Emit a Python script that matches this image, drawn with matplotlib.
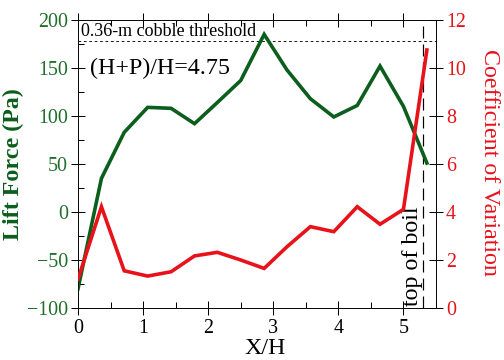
import matplotlib
matplotlib.use("Agg")
import matplotlib.pyplot as plt
from matplotlib.ticker import MultipleLocator

# ---- data ----
x_h = [0.0, 0.36, 0.71, 1.07, 1.43, 1.79, 2.14, 2.50, 2.86, 3.21, 3.57, 3.93, 4.29, 4.64, 5.00, 5.36]
lift_pa = [-80, 35, 83, 109, 108, 92, 114, 137, 185, 148, 118, 99, 111, 152, 110, 51]
cov = [1.2, 4.22, 1.55, 1.33, 1.51, 2.17, 2.32, 2.0, 1.65, 2.55, 3.39, 3.18, 4.22, 3.49, 4.11, 10.75]
threshold = 178
boil_x = 5.30

green = '#0b5e1c'
green_txt = '#1f6e2a'
red = '#e8121b'

plt.rcParams['font.family'] = ['Liberation Serif', 'DejaVu Serif']

fig = plt.figure(figsize=(7, 5), dpi=72)
ax = fig.add_axes([78/504, 52/360, (436-78)/504, 288/360])
ax2 = ax.twinx()

ax.plot(x_h, lift_pa, color=green, lw=3.6, solid_joinstyle='miter', zorder=3)
ax2.plot(x_h, cov, color=red, lw=3.6, solid_joinstyle='miter', zorder=3)

ax.axhline(threshold, color='black', lw=0.9, ls=(0, (3, 3)))
ax.axvline(boil_x, color='black', lw=1.2, ls=(0, (10, 5)))

ax.set_xlim(0, 5.5)
ax.set_ylim(-100, 200)
ax2.set_ylim(0, 12)

ax.xaxis.set_major_locator(MultipleLocator(1))
ax.xaxis.set_minor_locator(MultipleLocator(0.5))
ax.yaxis.set_major_locator(MultipleLocator(50))
ax.yaxis.set_minor_locator(MultipleLocator(25))
ax2.yaxis.set_major_locator(MultipleLocator(2))

ax.tick_params(axis='x', which='major', direction='inout', length=14, width=1,
               top=True, labelsize=20, pad=4)
ax.tick_params(axis='x', which='minor', direction='in', length=6, width=1, top=True)
ax.tick_params(axis='y', which='major', direction='inout', length=14, width=1,
               labelsize=20, labelcolor=green_txt, pad=3)
ax.tick_params(axis='y', which='minor', direction='in', length=6, width=1)
ax2.tick_params(axis='y', which='major', direction='inout', length=14, width=1,
                labelsize=20, labelcolor=red, pad=3)

ax.text(0.04, 179, '0.36-m cobble threshold', fontsize=18, ha='left', va='bottom')
ax.text(0.18, 150, '(H+P)/H=4.75', fontsize=24, ha='left', va='center')
ax.text(5.14, -98, 'top of boil', fontsize=24, rotation=90, ha='center', va='bottom', zorder=4)

fig.text(265/504, 1 - 348/360, 'X/H', fontsize=24, ha='center', va='center')
fig.text(13/504, 0.544, 'Lift Force (Pa)', fontsize=24, fontweight='bold', color=green,
         rotation=90, ha='center', va='center')
fig.text(490/504, 0.549, 'Coefficient of Variation', fontsize=24, color=red,
         rotation=270, ha='center', va='center')

fig.savefig('out.png', dpi=72)
